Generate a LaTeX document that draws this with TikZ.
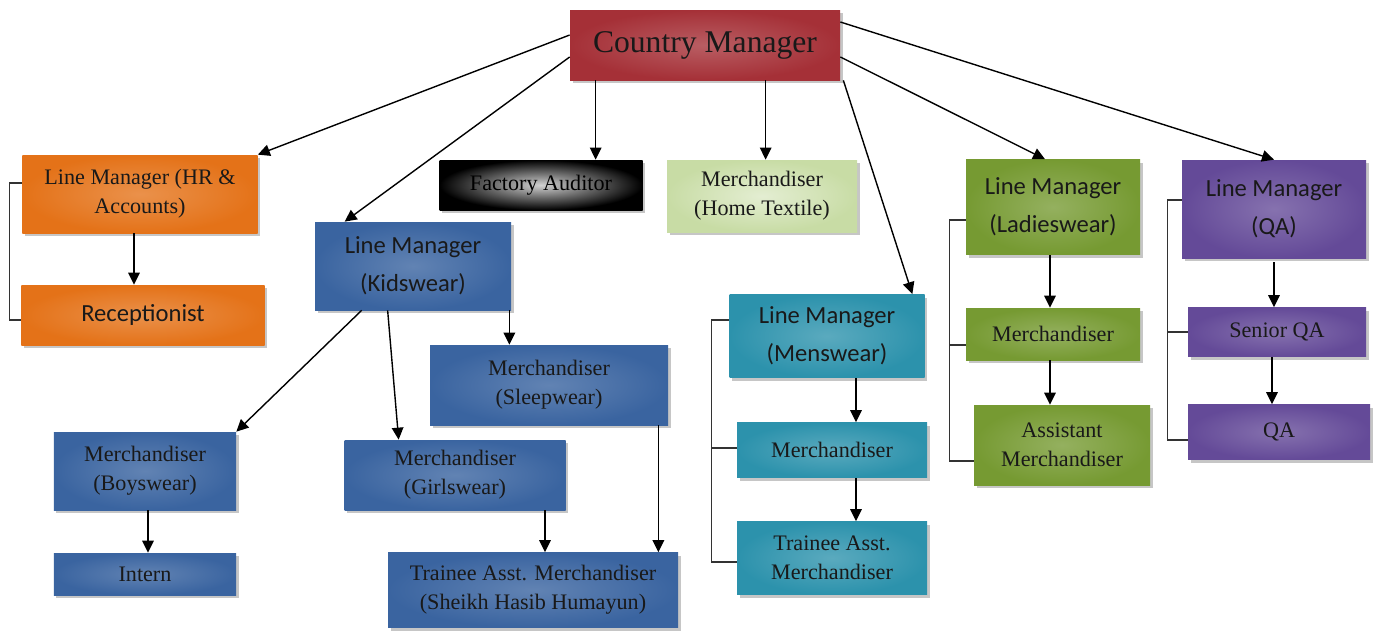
\documentclass[tikz,border=0pt]{standalone}
\usepackage{fontspec}
\setmainfont{Liberation Serif}
\newfontfamily\calib{Carlito}
\usetikzlibrary{arrows.meta,shadows}

\definecolor{cmred}{RGB}{165,48,55}
\definecolor{hrorange}{RGB}{228,114,24}
\definecolor{kidblue}{RGB}{58,100,160}
\definecolor{menteal}{RGB}{44,146,172}
\definecolor{ladygreen}{RGB}{118,154,50}
\definecolor{qapurple}{RGB}{100,74,152}
\definecolor{homegreen}{RGB}{200,220,165}

\begin{document}
\begin{tikzpicture}[x=0.2mm, y=-0.2mm,
  every node/.style={font=\fontsize{12.6}{16.5}\selectfont, text=black!90},
  box/.style={inner sep=0pt, align=center,
    drop shadow={shadow xshift=0.5mm, shadow yshift=-0.6mm, opacity=0.45}},
  sz/.style 2 args={minimum width=#1mm, minimum height=#2mm},
  sans/.style={font=\calib\fontsize{14}{21.5}\selectfont},
  redbox/.style={box, inner color=cmred!78!white, outer color=cmred},
  orangebox/.style={box, inner color=hrorange!78!white, outer color=hrorange},
  blackbox/.style={box, inner color=black!18, outer color=black, text=black},
  homebox/.style={box, inner color=homegreen!50!white, outer color=homegreen},
  bluebox/.style={box, inner color=kidblue!80!white, outer color=kidblue},
  tealbox/.style={box, inner color=menteal!78!white, outer color=menteal},
  greenbox/.style={box, inner color=ladygreen!78!white, outer color=ladygreen},
  purplebox/.style={box, inner color=qapurple!78!white, outer color=qapurple},
  arr/.style={-{Triangle[length=2.4mm, width=2.3mm]}, line width=0.28mm},
  brk/.style={line width=0.22mm, draw=black!80}]

  \useasboundingbox (0,0) rectangle (1377,631);

  % top
  \node[redbox, sz={54}{14}, font=\fontsize{18}{20}\selectfont] (cm) at (705,45) {Country Manager};

  % HR branch
  \node[orangebox, sz={47}{15.6}] (hr) at (140,194) {Line Manager (HR \&\\ Accounts)};
  \node[orangebox, sz={48.6}{12}, sans] (rec) at (143,315) {Receptionist};

  % single boxes
  \node[blackbox, sz={40.6}{10}] (fa) at (541,185) {Factory Auditor};
  \node[homebox, sz={38}{14.4}] (ht) at (762,196) {Merchandiser\\ (Home Textile)};

  % kidswear branch
  \node[bluebox, sz={39.2}{17.6}, sans] (kid) at (413,266) {Line Manager\\ (Kidswear)};
  \node[bluebox, sz={47.6}{16}] (sleep) at (549,385) {Merchandiser\\ (Sleepwear)};
  \node[bluebox, sz={36.4}{15.6}] (boys) at (145,471) {Merchandiser\\ (Boyswear)};
  \node[bluebox, sz={44.2}{14}] (girls) at (455,475) {Merchandiser\\ (Girlswear)};
  \node[bluebox, sz={36.4}{8.4}] (intern) at (145,574) {Intern};
  \node[bluebox, sz={58}{15}] (trainee) at (533,590) {Trainee Asst. Merchandiser\\ (Sheikh Hasib Humayun)};

  % menswear branch
  \node[tealbox, sz={39}{16.6}, sans] (mens) at (827,336) {Line Manager\\ (Menswear)};
  \node[tealbox, sz={38}{11}] (mmer) at (832,450) {Merchandiser};
  \node[tealbox, sz={38}{14.6}] (mtr) at (832,558) {Trainee Asst.\\ Merchandiser};

  % ladieswear branch
  \node[greenbox, sz={34.8}{19}, sans] (ladies) at (1053,207) {Line Manager\\ (Ladieswear)};
  \node[greenbox, sz={34.8}{10.4}] (lmer) at (1053,334) {Merchandiser};
  \node[greenbox, sz={35.2}{16}] (lasst) at (1062,445) {Assistant\\ Merchandiser};

  % QA branch
  \node[purplebox, sz={36.8}{19.6}, sans] (qa) at (1274,209) {Line Manager\\ (QA)};
  \node[purplebox, sz={35.6}{9.8}] (sqa) at (1277,332) {Senior QA};
  \node[purplebox, sz={36.4}{11}] (qaa) at (1279,432) {QA};

  % arrows from country manager
  \draw[arr] ([yshift=2mm]cm.west) -- (hr.north east);
  \draw[arr] ([yshift=-2.4mm]cm.west) -- ([xshift=6mm]kid.north west);
  \draw[arr] ([xshift=5.2mm]cm.south west) -- ([xshift=5.2mm]cm.south west |- fa.north);
  \draw[arr] ([xshift=39.2mm]cm.south west) -- ([xshift=39.2mm]cm.south west |- ht.north);
  \draw[arr] ([xshift=0.6mm]cm.south east) -- ([xshift=-2.5mm]mens.north east);
  \draw[arr] ([yshift=-2.4mm]cm.east) -- ([xshift=-1.6mm]ladies.north);
  \draw[arr] ([yshift=4.6mm]cm.east) -- (qa.north);

  % HR arrows
  \draw[arr] ([xshift=-1.2mm]hr.south) -- ([xshift=-1.2mm]hr.south |- rec.north);
  \draw[brk] ([yshift=2.2mm]hr.west) -- ++(-2.6mm,0) |- ([yshift=-1mm]rec.west);

  % kidswear arrows
  \draw[arr] ([xshift=9.4mm]kid.south west) -- (boys.north east);
  \draw[arr] ([xshift=14.6mm]kid.south west) -- ([xshift=10.9mm]girls.north west);
  \draw[arr] ([xshift=-0.4mm]kid.south east) -- ([xshift=-0.4mm]kid.south east |- sleep.north);
  \draw[arr] ([xshift=0.6mm]boys.south) -- ([xshift=0.6mm]boys.south |- intern.north);
  \draw[arr] ([xshift=18mm]girls.south) -- ([xshift=18mm]girls.south |- trainee.north);
  \draw[arr] ([xshift=-2mm]sleep.south east) -- ([xshift=-2mm]sleep.south east |- trainee.north);

  % menswear arrows
  \draw[arr] ([xshift=5.8mm]mens.south) -- ([xshift=5.8mm]mens.south |- mmer.north);
  \draw[arr] ([xshift=4.8mm]mmer.south) -- ([xshift=4.8mm]mmer.south |- mtr.north);
  \draw[brk] ([yshift=3.2mm]mens.west) -- ++(-3.6mm,0) coordinate (mb) |- ([yshift=-0.8mm]mtr.west);
  \draw[brk] ([yshift=0.4mm]mmer.west) -- ([yshift=0.4mm]mmer.west -| mb);

  % ladieswear arrows
  \draw[arr] ([xshift=-0.6mm]ladies.south) -- ([xshift=-0.6mm]ladies.south |- lmer.north);
  \draw[arr] ([xshift=-0.6mm]lmer.south) -- ([xshift=-0.6mm]lmer.south |- lasst.north);
  \draw[brk] ([yshift=-2.6mm]ladies.west) -- ++(-3.2mm,0) coordinate (lb) |- ([yshift=-3.2mm]lasst.west);
  \draw[brk] ([yshift=-2.2mm]lmer.west) -- ([yshift=-2.2mm]lmer.west -| lb);

  % QA arrows
  \draw[arr] ([yshift=-0.8mm]qa.south) -- (qa.south |- sqa.north);
  \draw[arr] ([xshift=-1mm]sqa.south) -- ([xshift=-1mm]sqa.south |- qaa.north);
  \draw[brk] ([yshift=1.8mm]qa.west) -- ++(-2.8mm,0) coordinate (qb) |- ([yshift=-1.6mm]qaa.west);
  \draw[brk] (sqa.west) -- (sqa.west -| qb);
\end{tikzpicture}
\end{document}
